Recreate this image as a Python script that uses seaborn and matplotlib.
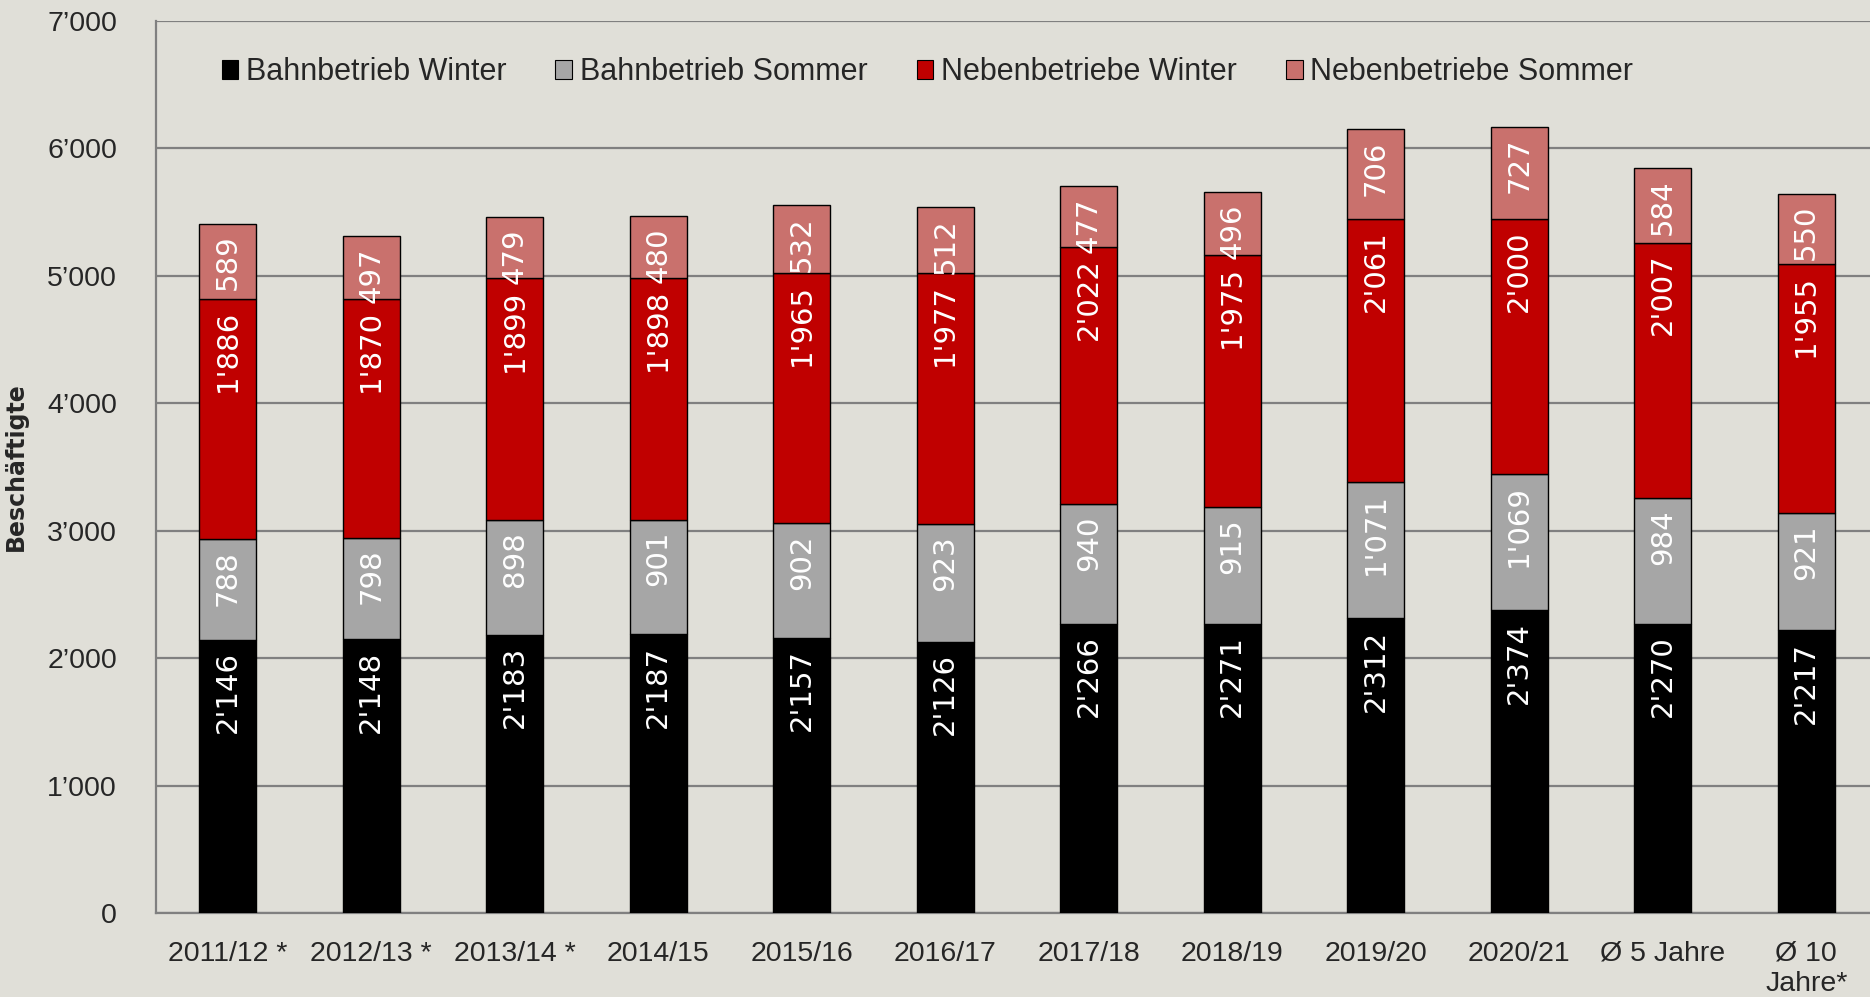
import matplotlib
matplotlib.use("Agg")
import matplotlib.pyplot as plt
from matplotlib.patches import Patch
from matplotlib.ticker import FuncFormatter, FixedLocator
import seaborn as sns

categories = ["2011/12 *", "2012/13 *", "2013/14 *", "2014/15", "2015/16", "2016/17",
              "2017/18", "2018/19", "2019/20", "2020/21", "Ø 5 Jahre", "Ø 10\nJahre*"]
bahn_winter = [2146, 2148, 2183, 2187, 2157, 2126, 2266, 2271, 2312, 2374, 2270, 2217]
bahn_sommer = [788, 798, 898, 901, 902, 923, 940, 915, 1071, 1069, 984, 921]
neben_winter = [1886, 1870, 1899, 1898, 1965, 1977, 2022, 1975, 2061, 2000, 2007, 1955]
neben_sommer = [589, 497, 479, 480, 532, 512, 477, 496, 706, 727, 584, 550]
series_names = ["Bahnbetrieb Winter", "Bahnbetrieb Sommer", "Nebenbetriebe Winter", "Nebenbetriebe Sommer"]
colors = ["#000000", "#a6a6a6", "#c00000", "#c9716d"]

bg = "#e0dfd8"
sns.set_style("white")
plt.rcParams["font.family"] = ["Liberation Sans", "DejaVu Sans"]

fig = plt.figure(figsize=(18.7, 9.97), dpi=100, facecolor=bg)
ax = fig.add_axes([156 / 1870, 1 - 913 / 997, 1722 / 1870, 892 / 997])
ax.set_facecolor(bg)

bottom = [0] * len(categories)
for vals, col in zip([bahn_winter, bahn_sommer, neben_winter, neben_sommer], colors):
    sns.barplot(x=categories, y=vals, bottom=bottom, color=col, width=0.4,
                edgecolor="black", linewidth=1, saturation=1, ax=ax, zorder=3)
    for i, v in enumerate(vals):
        top = bottom[i] + v
        ax.annotate(f"{v:,}".replace(",", "'"), (i, top), xytext=(0, -8),
                    textcoords="offset points", rotation=90, ha="center", va="top",
                    color="white", fontsize=21, family="DejaVu Sans", zorder=4)
    bottom = [b + v for b, v in zip(bottom, vals)]

ax.set_xlim(-0.5, len(categories) - 0.5)
ax.set_ylim(0, 7000)
ax.set_yticks(range(0, 7001, 1000))
ax.yaxis.set_major_formatter(FuncFormatter(lambda v, p: f"{int(v):,}".replace(",", "’")))
ax.grid(axis="y", color="#808080", linewidth=1.6, zorder=0)
ax.set_axisbelow(True)

# category boundary ticks on x, labels centred
ax.xaxis.set_major_locator(FixedLocator([i - 0.5 for i in range(len(categories) + 1)]))
ax.xaxis.set_minor_locator(FixedLocator(list(range(len(categories)))))
ax.set_xticklabels([])
ax.set_xticklabels(categories, minor=True)
ax.tick_params(axis="x", which="major", length=12, width=1.3, color="#808080", direction="out")
ax.tick_params(axis="x", which="minor", length=0, pad=20, labelsize=20.5)
ax.tick_params(axis="y", length=12, width=1.3, color="#808080", direction="out", labelsize=20.5, pad=16)
for lab in ax.get_xticklabels(minor=True):
    lab.set_verticalalignment("top")
    lab.set_horizontalalignment("center")
    lab.set_linespacing(1.2)

for s in ["top", "right"]:
    ax.spines[s].set_visible(False)
for s in ["left", "bottom"]:
    ax.spines[s].set_color("#808080")
    ax.spines[s].set_linewidth(1.6)

ax.set_xlabel("")
ax.set_ylabel("Beschäftigte", fontsize=17, fontweight="bold", labelpad=14, family="DejaVu Sans")

handles = [Patch(facecolor=c, edgecolor="black", linewidth=0.8) for c in colors]
fig.legend(handles, series_names, loc="center left", bbox_to_anchor=(194 / 1870, 1 - 72 / 997),
           ncol=4, frameon=False, fontsize=22, handlelength=0.55, handleheight=0.6,
           handletextpad=0.25, columnspacing=1.6)

fig.savefig("out.png", dpi=100, facecolor=bg)
